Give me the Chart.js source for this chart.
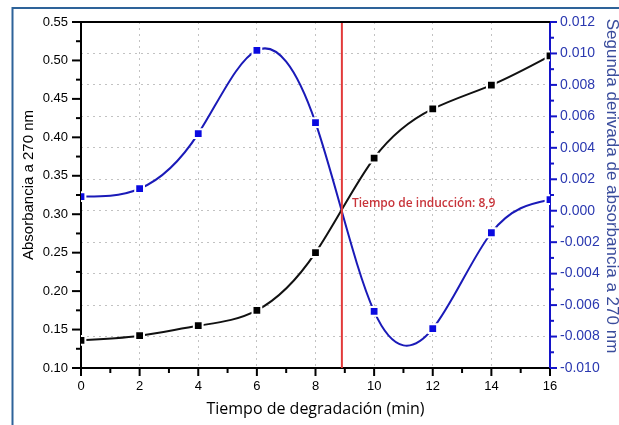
<!DOCTYPE html>
<html>
<head>
<meta charset="utf-8">
<script src="https://cdn.jsdelivr.net/npm/chart.js@4.4.0/dist/chart.umd.min.js"></script>
<style>
html,body{margin:0;padding:0;background:#fff;}
canvas{display:block;}
</style>
</head>
<body>
<canvas id="c" width="619" height="425"></canvas>
<script>
// ---- data ----
const times = [0, 2, 4, 6, 8, 10, 12, 14, 16];
const absorbance = [0.136, 0.142, 0.155, 0.175, 0.250, 0.373, 0.437, 0.468, 0.506];
const secondDerivative = [0.0009, 0.0014, 0.0049, 0.0102, 0.0056, -0.0064, -0.0075, -0.0014, 0.0007];
const inductionTime = 8.9;
const inductionLabel = 'Tiempo de inducción: 8,9';
const xTickValues = [0, 2, 4, 6, 8, 10, 12, 14, 16];
const leftTickValues = [0.10, 0.15, 0.20, 0.25, 0.30, 0.35, 0.40, 0.45, 0.50, 0.55];
const rightTickValues = [-0.010, -0.008, -0.006, -0.004, -0.002, 0.000, 0.002, 0.004, 0.006, 0.008, 0.010, 0.012];
const xTitle = 'Tiempo de degradación (min)';
const leftTitle = 'Absorbancia a 270 nm';
const rightTitle = 'Segunda derivada de absorbancia a 270 nm';

const BLUE_LINE = '#1a1ab8';
const BLUE_MARK = '#0a0ae0';
const BLUE_AXIS = '#1414c8';
const BLUE_TEXT = '#2a38b0';
const RED = '#e23a3a';

function mids(arr){ const out=[]; for(let i=0;i<arr.length-1;i++) out.push((arr[i]+arr[i+1])/2); return out; }

// Smooth curve through the library-positioned points (natural cubic spline, like the original plot's spline)
const splinePlugin = {
  id: 'naturalSpline',
  beforeDatasetDraw(chart, args){
    const ds = chart.data.datasets[args.index];
    const meta = args.meta;
    if (!ds.naturalSpline || !meta.dataset) return;
    const pts = meta.data;
    const n = pts.length;
    if (n < 3) return;
    const X = pts.map(p=>p.x), Y = pts.map(p=>p.y);
    const h = [];
    for (let i=0;i<n-1;i++) h.push(X[i+1]-X[i]);
    const M = new Array(n).fill(0);
    // Thomas algorithm for interior second derivatives
    const a=[], b=[], c=[], d=[];
    for (let i=1;i<n-1;i++){
      a.push(h[i-1]); b.push(2*(h[i-1]+h[i])); c.push(h[i]);
      d.push(6*((Y[i+1]-Y[i])/h[i] - (Y[i]-Y[i-1])/h[i-1]));
    }
    const m = b.length;
    for (let i=1;i<m;i++){ const w=a[i]/b[i-1]; b[i]-=w*c[i-1]; d[i]-=w*d[i-1]; }
    const sol = new Array(m);
    sol[m-1] = d[m-1]/b[m-1];
    for (let i=m-2;i>=0;i--) sol[i] = (d[i]-c[i]*sol[i+1])/b[i];
    for (let i=0;i<m;i++) M[i+1] = sol[i];
    for (let i=0;i<n-1;i++){
      const hi = h[i];
      const s0 = (Y[i+1]-Y[i])/hi - hi*(2*M[i]+M[i+1])/6;
      const s1 = (Y[i+1]-Y[i])/hi + hi*(M[i]+2*M[i+1])/6;
      pts[i].cp2x = X[i] + hi/3; pts[i].cp2y = Y[i] + s0*hi/3;
      pts[i+1].cp1x = X[i+1] - hi/3; pts[i+1].cp1y = Y[i+1] - s1*hi/3;
    }
    pts[0].cp1x = X[0]; pts[0].cp1y = Y[0];
    pts[n-1].cp2x = X[n-1]; pts[n-1].cp2y = Y[n-1];
    meta.dataset._pointsUpdated = true;
    meta.dataset._path = undefined;
  }
};

const decorPlugin = {
  id: 'decor',
  beforeDraw(chart){
    const ctx = chart.ctx;
    ctx.save();
    ctx.fillStyle = '#fff';
    ctx.fillRect(0,0,chart.width,chart.height);
    ctx.strokeStyle = '#2e6399';
    ctx.lineWidth = 2;
    ctx.beginPath();
    ctx.moveTo(12.5, chart.height);
    ctx.lineTo(12.5, 8);
    ctx.lineTo(chart.width, 8);
    ctx.stroke();
    ctx.restore();
  },
  afterDraw(chart){
    const {ctx, chartArea:a, scales} = chart;
    const x = scales.x, yL = scales.yL, yR = scales.yR;
    ctx.save();
    ctx.lineWidth = 2;
    ctx.strokeStyle = '#000';
    ctx.beginPath(); ctx.moveTo(a.left-1, a.top); ctx.lineTo(a.right+1, a.top); ctx.stroke();
    const seg = (x1,y1,x2,y2)=>{ctx.beginPath();ctx.moveTo(x1,y1);ctx.lineTo(x2,y2);ctx.stroke();};
    xTickValues.forEach(v=>{const p=x.getPixelForValue(v); seg(p,a.bottom,p,a.bottom+8);});
    mids(xTickValues).forEach(v=>{const p=x.getPixelForValue(v); seg(p,a.bottom,p,a.bottom+5);});
    leftTickValues.forEach(v=>{const p=yL.getPixelForValue(v); seg(a.left-9,p,a.left,p);});
    mids(leftTickValues).forEach(v=>{const p=yL.getPixelForValue(v); seg(a.left-5,p,a.left,p);});
    ctx.strokeStyle = BLUE_AXIS;
    rightTickValues.forEach(v=>{const p=yR.getPixelForValue(v); seg(a.right,p,a.right+7,p);});
    mids(rightTickValues).forEach(v=>{const p=yR.getPixelForValue(v); seg(a.right,p,a.right+4,p);});
    // annotation
    ctx.fillStyle = '#c8343a';
    ctx.font = '600 12px "Open Sans"';
    ctx.textAlign = 'left';
    ctx.textBaseline = 'middle';
    ctx.fillText(inductionLabel, x.getPixelForValue(inductionTime)+10, yR.getPixelForValue(0.00045));
    // axis titles
    ctx.fillStyle = '#000';
    ctx.font = '15px "Liberation Sans"';
    ctx.textAlign = 'center';
    ctx.textBaseline = 'alphabetic';
    ctx.save(); ctx.translate(33, (a.top+a.bottom)/2 - 10); ctx.rotate(-Math.PI/2); ctx.fillText(leftTitle,0,0); ctx.restore();
    ctx.fillStyle = '#3a4c9c';
    ctx.font = '17px "Liberation Sans"';
    ctx.save(); ctx.translate(607, (a.top+a.bottom)/2 - 9); ctx.rotate(Math.PI/2); ctx.fillText(rightTitle,0,0); ctx.restore();
    ctx.fillStyle = '#000';
    ctx.font = '16px "Open Sans"';
    ctx.textBaseline = 'middle';
    ctx.fillText(xTitle, (a.left+a.right)/2, 409);
    ctx.restore();
  }
};

new Chart(document.getElementById('c'), {
  type: 'line',
  data: {
    datasets: [
      {
        label: 'Tiempo de inducción',
        data: [{x: inductionTime, y: 0.10}, {x: inductionTime, y: 0.55}],
        yAxisID: 'yL',
        borderColor: RED,
        borderWidth: 2,
        pointRadius: 0,
        tension: 0
      },
      {
        label: 'Absorbancia',
        data: times.map((t,i)=>({x:t, y:absorbance[i]})),
        yAxisID: 'yL',
        borderColor: '#111',
        borderWidth: 2,
        pointStyle: 'rect',
        pointRadius: 6.2,
        pointBackgroundColor: '#000',
        pointBorderColor: '#fff',
        pointBorderWidth: 2,
        tension: 0.4,
        naturalSpline: true
      },
      {
        label: 'Segunda derivada',
        data: times.map((t,i)=>({x:t, y:secondDerivative[i]})),
        yAxisID: 'yR',
        borderColor: BLUE_LINE,
        borderWidth: 2,
        pointStyle: 'rect',
        pointRadius: 6.2,
        pointBackgroundColor: BLUE_MARK,
        pointBorderColor: '#fff',
        pointBorderWidth: 2,
        tension: 0.4,
        naturalSpline: true
      }
    ]
  },
  options: {
    responsive: false,
    animation: false,
    events: [],
    layout: { padding: { top: 22, left: 0, right: 0, bottom: 0 } },
    plugins: { legend: { display: false }, tooltip: { enabled: false } },
    scales: {
      x: {
        type: 'linear',
        position: 'bottom',
        min: 0, max: 16,
        afterFit(s){ s.height = 57; },
        afterBuildTicks(s){ s.ticks = xTickValues.map(v=>({value:v})); },
        ticks: { color: '#000', font: { family: 'Liberation Sans', size: 13 }, padding: 11, maxRotation: 0 },
        grid: { color: '#c2c2c2', lineWidth: 1, drawTicks: false },
        border: { color: '#000', width: 2, dash: [2, 4] }
      },
      yL: {
        type: 'linear',
        position: 'left',
        min: 0.10, max: 0.55,
        afterFit(s){ s.width = 81; },
        afterBuildTicks(s){ s.ticks = leftTickValues.map(v=>({value:v})); },
        ticks: { color: '#000', font: { family: 'Liberation Sans', size: 13 }, padding: 13, callback: v => v.toFixed(2) },
        grid: { display: false, drawTicks: false },
        border: { color: '#000', width: 2 }
      },
      yR: {
        type: 'linear',
        position: 'right',
        min: -0.010, max: 0.012,
        afterFit(s){ s.width = 69; },
        afterBuildTicks(s){ s.ticks = rightTickValues.map(v=>({value:v})); },
        ticks: { color: BLUE_TEXT, font: { family: 'Liberation Sans', size: 14 }, padding: 10, callback: v => v.toFixed(3) },
        grid: { color: '#c2c2c2', lineWidth: 1, drawTicks: false, drawOnChartArea: true },
        border: { color: BLUE_AXIS, width: 2, dash: [2, 4] }
      }
    }
  },
  plugins: [splinePlugin, decorPlugin]
});
</script>
</body>
</html>
